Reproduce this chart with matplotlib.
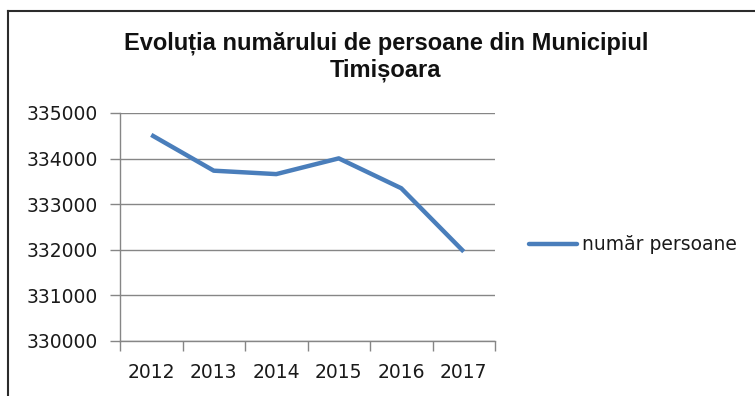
import matplotlib
matplotlib.use("Agg")
import matplotlib.pyplot as plt
from matplotlib.lines import Line2D

years = ["2012", "2013", "2014", "2015", "2016", "2017"]
persons = [334520, 333735, 333660, 334005, 333350, 331960]
y_ticks = [330000, 331000, 332000, 333000, 334000, 335000]
series_label = "număr persoane"
title = "Evoluția numărului de persoane din Municipiul\nTimișoara"

W, H = 755, 396
fig = plt.figure(figsize=(W / 100, H / 100), dpi=100)
fig.patch.set_facecolor("white")

# outer chart frame (top and left edges)
fig.add_artist(Line2D([8 / W, 8 / W], [0, 1 - 11 / H], transform=fig.transFigure,
                      color="#2b2b2b", lw=1.5))
fig.add_artist(Line2D([8 / W, 1], [1 - 11 / H, 1 - 11 / H], transform=fig.transFigure,
                      color="#2b2b2b", lw=1.5))

left, right, top, bottom = 120, 495, 113, 341
ax = fig.add_axes([left / W, 1 - bottom / H, (right - left) / W, (bottom - top) / H])

x = list(range(len(years)))
ax.plot(x, persons, color="#4A7EBB", lw=3.2, solid_capstyle="butt",
        solid_joinstyle="round", label=series_label, zorder=3)

ax.set_xlim(-0.5, len(years) - 0.5)
ax.set_ylim(y_ticks[0], y_ticks[-1])
ax.set_yticks(y_ticks)
ax.set_yticklabels([str(v) for v in y_ticks])
ax.set_xticks(x)
ax.set_xticklabels(years)
ax.set_xticks([i - 0.5 for i in range(len(years) + 1)], minor=True)

grid_c = "#868686"
ax.yaxis.grid(True, color=grid_c, lw=1)
ax.set_axisbelow(True)
for s in ("top", "right"):
    ax.spines[s].set_visible(False)
for s in ("left", "bottom"):
    ax.spines[s].set_color(grid_c)
    ax.spines[s].set_linewidth(1)

tick_size = 13.5
ax.tick_params(axis="x", which="major", length=0, pad=16, labelsize=tick_size,
               labelcolor="#1a1a1a")
ax.tick_params(axis="x", which="minor", length=7, color=grid_c, width=1)
ax.tick_params(axis="y", length=7, color=grid_c, width=1, pad=9, labelsize=tick_size,
               labelcolor="#1a1a1a")

fig.text(386 / W, 1 - 57 / H, title, ha="center", va="center", fontsize=17,
         fontweight="bold", family="Liberation Sans", color="#111111",
         linespacing=1.22)

# legend entry
ly = 1 - 244 / H
fig.add_artist(Line2D([529 / W, 577 / W], [ly, ly], transform=fig.transFigure,
                      color="#4A7EBB", lw=3.2, solid_capstyle="round"))
fig.text(582 / W, ly, series_label, ha="left", va="center", fontsize=tick_size,
         color="#1a1a1a")

fig.savefig("out.png", dpi=100, facecolor="white")
